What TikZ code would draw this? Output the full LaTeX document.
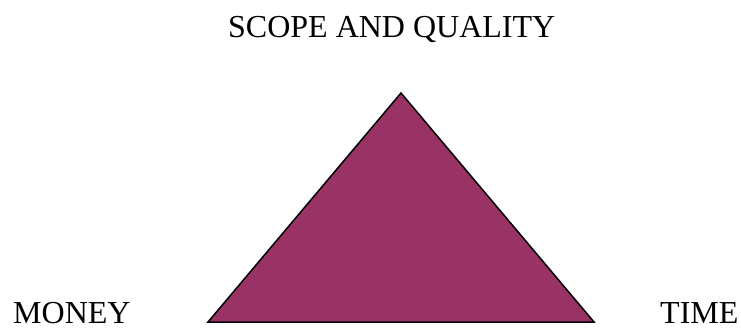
\documentclass[tikz,border=0pt]{standalone}
\usepackage{fontspec}
\setmainfont{Liberation Serif}
\definecolor{tri}{HTML}{993366}
\tikzset{lbl/.style={inner sep=0pt, font=\fontsize{32}{38}\selectfont, anchor=base west}}
\begin{document}
\begin{tikzpicture}[x=1pt,y=-1pt]
\useasboundingbox (0,0) rectangle (741,327);
\coordinate (apex) at (401,93);
\coordinate (bl) at (208,322);
\coordinate (br) at (594,322);
\filldraw[fill=tri, draw=black, line width=1.5pt, line join=miter] (apex) -- (br) -- (bl) -- cycle;
\node[lbl] (scope) at (228,37) {SCOPE AND QUALITY};
\node[lbl] (money) at (13,323) {MONEY};
\node[lbl] (time) at (660,323) {TIME};
\end{tikzpicture}
\end{document}
